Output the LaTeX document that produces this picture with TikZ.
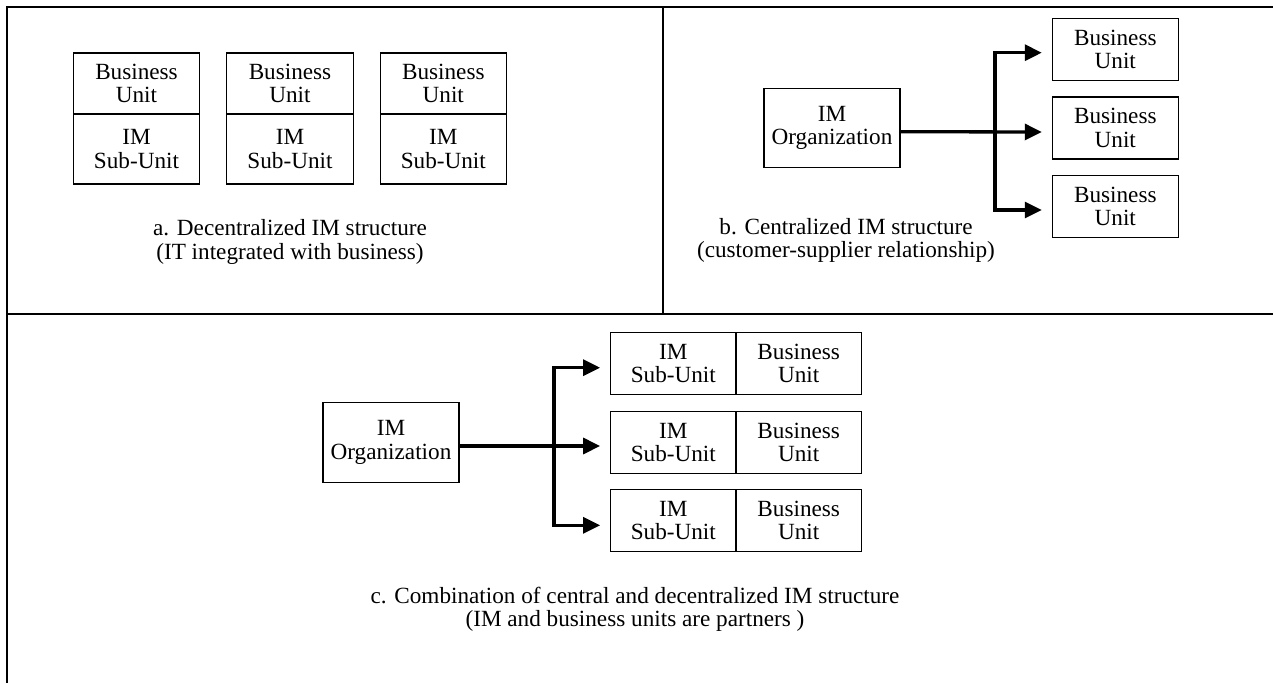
\documentclass[tikz,border=0pt]{standalone}
\usepackage{fontspec}
\setmainfont{Liberation Serif}
\usetikzlibrary{arrows.meta}
\begin{document}
\begin{tikzpicture}[x=1pt,y=-1pt,
  txt/.style={font=\fontsize{23.2}{23.3}\selectfont, align=center, inner sep=0pt},
  cell/.style={txt, draw, line width=1.1pt},
  frame/.style={line width=2pt},
  arr/.style={line width=3.3pt, line join=miter, {Triangle[length=17pt,width=16pt]}-{Triangle[length=17pt,width=16pt]}},
  onearr/.style={line width=3.3pt, -{Triangle[length=17pt,width=16pt]}}]
\useasboundingbox (0,0) rectangle (1273,683);
% frame
\draw[frame] (7,683) -- (7,7) -- (1273,7);
\draw[frame] (663,7) -- (663,314);
\draw[frame] (7,314) -- (1273,314);
% panel a
\foreach \i/\x in {1/136.5, 2/290, 3/443.3} {
  \node[cell, minimum width=126.5pt, minimum height=61pt] (abu\i) at (\x,83.5) {Business\\Unit};
  \node[cell, minimum width=126.5pt, minimum height=70pt] (aim\i) at (\x,149) {IM\\Sub-Unit};
}
\node[txt] (acap) at (290,242) {a. Decentralized IM structure\\(IT integrated with business)};
% panel b
\node[cell, minimum width=136pt, minimum height=79pt] (borg) at (832,127.7) {IM\\Organization};
\foreach \i/\y in {1/49.2, 2/128, 3/206.3}
  \node[cell, minimum width=126pt, minimum height=62pt] (bbu\i) at (1115.3,\y) {Business\\Unit};
\node[txt] (bcap) at (846,240.5) {b. Centralized IM structure\\(customer-supplier relationship)};
\coordinate (bx) at (995,0);
\coordinate (b1) at ([yshift=-3.5pt,xshift=-10pt]bbu1.west);
\coordinate (b3) at ([yshift=-3.7pt,xshift=-10pt]bbu3.west);
\draw[arr] (b1) -| (bx |- b3) -- (b3);
\draw[onearr] ([yshift=-4pt]borg.east) -- ([yshift=-4pt,xshift=-10pt]bbu2.west);
% panel c
\node[cell, minimum width=136pt, minimum height=80pt] (corg) at (391,442.3) {IM\\Organization};
\foreach \i/\y in {1/363.3, 2/442.2, 3/520.7} {
  \node[cell, minimum width=125.3pt, minimum height=62pt] (cim\i) at (673.3,\y) {IM\\Sub-Unit};
  \node[cell, minimum width=125.3pt, minimum height=62pt] (cbu\i) at (798.7,\y) {Business\\Unit};
}
\node[txt] (ccap) at (635,609) {c. Combination of central and decentralized IM structure\\(IM and business units are partners )};
\coordinate (cx) at (554,0);
\coordinate (c1) at ([yshift=-4.4pt,xshift=-10pt]cim1.west);
\coordinate (c3) at ([yshift=-4.6pt,xshift=-10pt]cim3.west);
\draw[arr] (c1) -| (cx |- c3) -- (c3);
\draw[onearr] ([yshift=-3.7pt]corg.east) -- ([yshift=-3.8pt,xshift=-10pt]cim2.west);
\end{tikzpicture}
\end{document}
